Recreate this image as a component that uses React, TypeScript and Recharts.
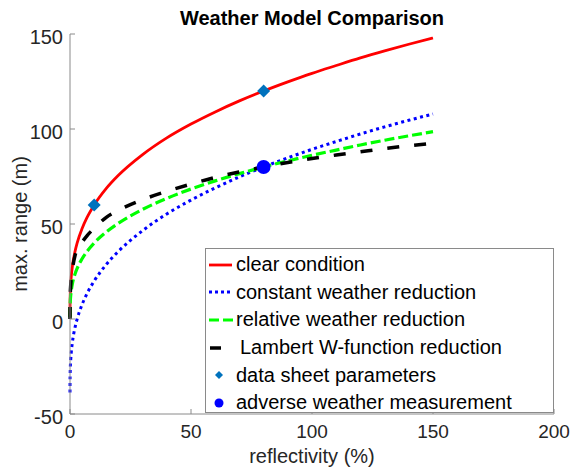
import React from 'react';
import { ComposedChart, Line, Scatter, XAxis, YAxis, Legend } from 'recharts';

// reflectivity grid (%) shared by the four model curves
const reflectivity = [0, 0.02, 0.1, 0.3, 0.5, 1, 2, 3, 5, 7, 10, 15, 20, 30, 40, 50, 60, 70, 80, 90, 100, 110, 120, 130, 140, 150];

// max. range (m)
const clearRange = [1.3, 7.6, 12.9, 18.6, 22.1, 27.9, 35.1, 40.2, 47.6, 53.3, 60, 68.7, 75.6, 86.5, 95.3, 102.6, 109, 114.8, 120, 124.8, 129.3, 133.4, 137.4, 141.1, 144.6, 147.9];
const constantRange = [-38.7, -32.4, -27.1, -21.4, -17.9, -12.1, -4.9, 0.2, 7.6, 13.3, 20, 28.7, 35.6, 46.5, 55.3, 62.6, 69, 74.8, 80, 84.8, 89.3, 93.4, 97.4, 101.1, 104.6, 107.9];
const relativeRange = [0.9, 5.1, 8.6, 12.4, 14.7, 18.6, 23.4, 26.8, 31.7, 35.5, 40, 45.8, 50.4, 57.7, 63.5, 68.4, 72.7, 76.5, 80, 83.2, 86.2, 88.9, 91.6, 94.1, 96.4, 98.6];
const lambertRange = [0, 7.4, 12.5, 17.8, 21, 26.2, 33, 36.8, 40.5, 43.8, 47.8, 53.5, 57.2, 62.8, 67.2, 71, 74.5, 77.4, 80, 82.4, 84.5, 86.3, 88, 89.7, 91.2, 92.5];

const dataSheetX = [10, 80];
const dataSheetY = [60, 120];
const adverseX = [80];
const adverseY = [80];

const xTicks = [0, 50, 100, 150, 200];
const yTicks = [-50, 0, 50, 100, 150];

const seriesNames = [
  'clear condition',
  'constant weather reduction',
  'relative weather reduction',
  'Lambert W-function reduction',
  'data sheet parameters',
  'adverse weather measurement',
];

const toPoints = (xs: number[], ys: number[]) => xs.map((x, i) => ({ x, y: ys[i] }));

const clearData = toPoints(reflectivity, clearRange);
const constantData = toPoints(reflectivity, constantRange);
const relativeData = toPoints(reflectivity, relativeRange);
const lambertData = toPoints(reflectivity, lambertRange);
const dataSheetData = toPoints(dataSheetX, dataSheetY);
const adverseData = toPoints(adverseX, adverseY);

const AXIS = '#8a8a8a';
const TEXT = '#262626';
const FONT = '"Liberation Sans", Arial, Helvetica, sans-serif';
const FS = 20;

const Diamond = (props: any) => {
  const { cx, cy } = props;
  const r = 6.5;
  return <path d={`M${cx},${cy - r}L${cx + r},${cy}L${cx},${cy + r}L${cx - r},${cy}Z`} fill="#0072BD" />;
};

const Dot = (props: any) => {
  const { cx, cy } = props;
  return <circle cx={cx} cy={cy} r={7} fill="#0000FF" />;
};

const legendSymbol = (name: string) => {
  switch (name) {
    case 'clear condition':
      return <line x1={3} x2={26} y1={13} y2={13} stroke="#FF0000" strokeWidth={2.8} />;
    case 'constant weather reduction':
      return <line x1={3} x2={26} y1={13} y2={13} stroke="#0000FF" strokeWidth={3} strokeDasharray="3 3" />;
    case 'relative weather reduction':
      return <line x1={3} x2={27} y1={13} y2={13} stroke="#00FF00" strokeWidth={3} strokeDasharray="10 4" />;
    case 'Lambert W-function reduction':
      return <line x1={4} x2={15} y1={13} y2={13} stroke="#000000" strokeWidth={3.5} />;
    case 'data sheet parameters':
      return <path d="M13,9L17,13L13,17L9,13Z" fill="#0072BD" />;
    default:
      return <circle cx={13} cy={13} r={4.5} fill="#0000FF" />;
  }
};

const renderLegend = (props: any) => {
  const items = [...(props.payload || [])].sort(
    (a: any, b: any) => seriesNames.indexOf(a.value) - seriesNames.indexOf(b.value)
  );
  return (
    <div
      style={{
        width: 349,
        height: 165,
        boxSizing: 'border-box',
        border: `1px solid ${AXIS}`,
        background: '#fff',
        paddingTop: 2,
        fontFamily: FONT,
        fontSize: FS,
        color: '#000',
      }}
    >
      {items.map((item: any) => (
        <div key={item.value} style={{ display: 'flex', alignItems: 'center', height: 27.6 }}>
          <svg width={30} height={26} style={{ flex: 'none' }}>
            {legendSymbol(item.value)}
          </svg>
          <span
            style={{
              marginLeft: item.value === 'Lambert W-function reduction' ? 4 : 0,
              lineHeight: '27px',
              whiteSpace: 'nowrap',
            }}
          >
            {item.value}
          </span>
        </div>
      ))}
    </div>
  );
};

export default function App() {
  const tickStyle = { fill: TEXT, fontSize: FS };
  return (
    <div style={{ position: 'relative', width: 570, height: 472, fontFamily: FONT }}>
      <style>{'body{margin:0}'}</style>
      <div
        style={{
          position: 'absolute',
          left: 70,
          width: 484,
          top: 8,
          textAlign: 'center',
          fontSize: FS,
          lineHeight: '20px',
          fontWeight: 'bold',
          color: '#000',
          zIndex: 2,
        }}
      >
        Weather Model Comparison
      </div>
      <ComposedChart width={570} height={472} margin={{ top: 34, right: 16, bottom: 0, left: 0 }}>
        <XAxis
          dataKey="x"
          type="number"
          domain={[0, 200]}
          ticks={xTicks}
          interval={0}
          height={58}
          stroke={AXIS}
          tickSize={-5}
          tickMargin={16}
          tick={{ fill: TEXT, fontSize: 19 }}
          label={{ value: 'reflectivity (%)', position: 'insideBottom', offset: 9, fill: TEXT, fontSize: FS }}
        />
        <XAxis
          xAxisId="top"
          orientation="top"
          type="number"
          domain={[0, 200]}
          ticks={xTicks}
          interval={0}
          height={0}
          stroke={AXIS}
          tickSize={-5}
          tick={false}
        />
        <YAxis
          type="number"
          domain={[-50, 150]}
          ticks={yTicks}
          interval={0}
          width={70}
          stroke={AXIS}
          tickSize={-5}
          tickMargin={12}
          tick={{ ...tickStyle, dy: 3 }}
          label={{ value: 'max. range (m)', angle: -90, position: 'center', dx: -15, fill: TEXT, fontSize: FS }}
        />
        <YAxis
          yAxisId="right"
          orientation="right"
          type="number"
          domain={[-50, 150]}
          ticks={yTicks}
          interval={0}
          width={0}
          stroke={AXIS}
          tickSize={-5}
          tick={false}
        />
        <Line
          data={clearData}
          dataKey="y"
          name="clear condition"
          type="monotone"
          stroke="#FF0000"
          strokeWidth={2.8}
          dot={false}
          activeDot={false}
          isAnimationActive={false}
        />
        <Line
          data={constantData}
          dataKey="y"
          name="constant weather reduction"
          type="monotone"
          stroke="#0000FF"
          strokeWidth={3}
          strokeDasharray="3 3.5"
          dot={false}
          activeDot={false}
          isAnimationActive={false}
        />
        <Line
          data={relativeData}
          dataKey="y"
          name="relative weather reduction"
          type="monotone"
          stroke="#00FF00"
          strokeWidth={3.2}
          strokeDasharray="10 4"
          dot={false}
          activeDot={false}
          isAnimationActive={false}
        />
        <Line
          data={lambertData}
          dataKey="y"
          name="Lambert W-function reduction"
          type="monotone"
          stroke="#000000"
          strokeWidth={3.5}
          strokeDasharray="12 15"
          dot={false}
          activeDot={false}
          isAnimationActive={false}
        />
        <Scatter
          data={dataSheetData}
          dataKey="y"
          name="data sheet parameters"
          fill="#0072BD"
          shape={Diamond}
          isAnimationActive={false}
        />
        <Scatter
          data={adverseData}
          dataKey="y"
          name="adverse weather measurement"
          fill="#0000FF"
          shape={Dot}
          isAnimationActive={false}
        />
        <Legend
          layout="vertical"
          align="center"
          verticalAlign="middle"
          content={renderLegend}
          wrapperStyle={{ left: 205, top: 248, width: 349, height: 165 }}
        />
      </ComposedChart>
    </div>
  );
}
